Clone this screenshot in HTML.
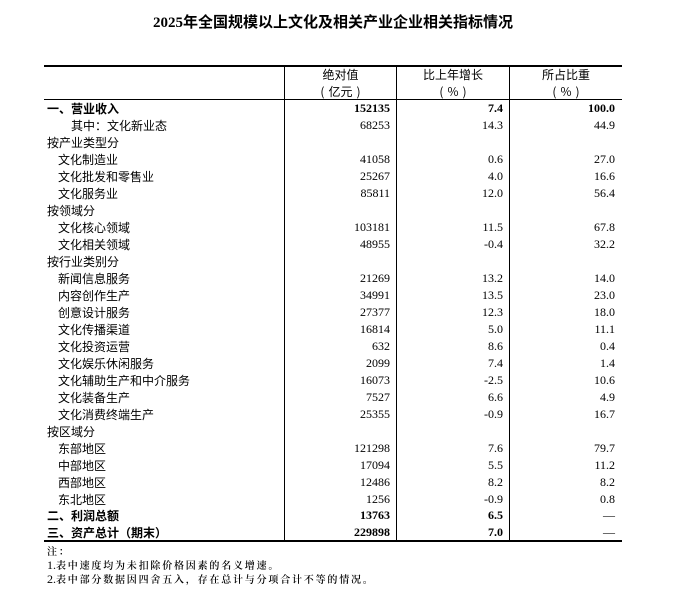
<!DOCTYPE html>
<html><head><meta charset="utf-8">
<style>
html,body{margin:0;padding:0;background:#fff;}
body{width:678px;height:610px;position:relative;overflow:hidden;font-family:"Liberation Serif","Noto Sans CJK SC",serif;color:#000;}
.t{position:absolute;white-space:nowrap;}
.title{left:44px;width:578px;top:13px;line-height:20px;text-align:center;font-size:15px;font-weight:bold;font-family:"Liberation Serif","Noto Sans CJK SC",sans-serif;}
.hl{position:absolute;background:#000;}
.lab{position:absolute;font-family:"Noto Sans CJK SC",sans-serif;font-size:12px;line-height:17px;height:17px;white-space:nowrap;}
.num{position:absolute;font-family:"Liberation Serif",serif;font-size:12px;line-height:17px;height:17px;text-align:right;white-space:nowrap;}
.b{font-weight:bold;}
.hd{position:absolute;font-family:"Noto Sans CJK SC",sans-serif;font-size:12px;line-height:17px;text-align:center;white-space:nowrap;}
.hd .s{display:inline-block;width:4px;}
.note{position:absolute;left:47px;font-family:"Noto Serif CJK SC",serif;font-weight:600;font-size:10px;letter-spacing:1.8px;line-height:14px;white-space:nowrap;color:#000;}
.note .d{font-family:"Liberation Serif",serif;font-weight:normal;font-size:12px;letter-spacing:0;}
</style></head><body>
<div class="t title">2025年全国规模以上文化及相关产业企业相关指标情况</div>

<div class="hl" style="left:44px;top:65px;width:578px;height:2px;"></div>
<div class="hl" style="left:44px;top:99px;width:578px;height:1px;"></div>
<div class="hl" style="left:44px;top:540px;width:578px;height:2px;"></div>
<div class="hl" style="left:284px;top:65px;width:1px;height:477px;"></div>
<div class="hl" style="left:396px;top:65px;width:1px;height:477px;"></div>
<div class="hl" style="left:509px;top:65px;width:1px;height:477px;"></div>

<div class="hd" style="left:285px;width:111px;top:66px;">绝对值</div>
<div class="hd" style="left:285px;width:111px;top:83px;">(<span class="s"></span>亿元<span class="s"></span>)</div>
<div class="hd" style="left:397px;width:112px;top:66px;">比上年增长</div>
<div class="hd" style="left:397px;width:112px;top:83px;">(<span class="s"></span>%<span class="s"></span>)</div>
<div class="hd" style="left:510px;width:112px;top:66px;">所占比重</div>
<div class="hd" style="left:510px;width:112px;top:83px;">(<span class="s"></span>%<span class="s"></span>)</div>

<div class="lab b" style="left:47px;top:100px;">一、营业收入</div>
<div class="num b" style="left:285px;width:105px;top:100px;">152135</div>
<div class="num b" style="left:397px;width:106px;top:100px;">7.4</div>
<div class="num b" style="left:510px;width:105px;top:100px;">100.0</div>

<div class="lab" style="left:71px;top:117px;">其中：文化新业态</div>
<div class="num" style="left:285px;width:105px;top:117px;">68253</div>
<div class="num" style="left:397px;width:106px;top:117px;">14.3</div>
<div class="num" style="left:510px;width:105px;top:117px;">44.9</div>

<div class="lab" style="left:47px;top:134px;">按产业类型分</div>

<div class="lab" style="left:58px;top:151px;">文化制造业</div>
<div class="num" style="left:285px;width:105px;top:151px;">41058</div>
<div class="num" style="left:397px;width:106px;top:151px;">0.6</div>
<div class="num" style="left:510px;width:105px;top:151px;">27.0</div>

<div class="lab" style="left:58px;top:168px;">文化批发和零售业</div>
<div class="num" style="left:285px;width:105px;top:168px;">25267</div>
<div class="num" style="left:397px;width:106px;top:168px;">4.0</div>
<div class="num" style="left:510px;width:105px;top:168px;">16.6</div>

<div class="lab" style="left:58px;top:185px;">文化服务业</div>
<div class="num" style="left:285px;width:105px;top:185px;">85811</div>
<div class="num" style="left:397px;width:106px;top:185px;">12.0</div>
<div class="num" style="left:510px;width:105px;top:185px;">56.4</div>

<div class="lab" style="left:47px;top:202px;">按领域分</div>

<div class="lab" style="left:58px;top:219px;">文化核心领域</div>
<div class="num" style="left:285px;width:105px;top:219px;">103181</div>
<div class="num" style="left:397px;width:106px;top:219px;">11.5</div>
<div class="num" style="left:510px;width:105px;top:219px;">67.8</div>

<div class="lab" style="left:58px;top:236px;">文化相关领域</div>
<div class="num" style="left:285px;width:105px;top:236px;">48955</div>
<div class="num" style="left:397px;width:106px;top:236px;">-0.4</div>
<div class="num" style="left:510px;width:105px;top:236px;">32.2</div>

<div class="lab" style="left:47px;top:253px;">按行业类别分</div>

<div class="lab" style="left:58px;top:270px;">新闻信息服务</div>
<div class="num" style="left:285px;width:105px;top:270px;">21269</div>
<div class="num" style="left:397px;width:106px;top:270px;">13.2</div>
<div class="num" style="left:510px;width:105px;top:270px;">14.0</div>

<div class="lab" style="left:58px;top:287px;">内容创作生产</div>
<div class="num" style="left:285px;width:105px;top:287px;">34991</div>
<div class="num" style="left:397px;width:106px;top:287px;">13.5</div>
<div class="num" style="left:510px;width:105px;top:287px;">23.0</div>

<div class="lab" style="left:58px;top:304px;">创意设计服务</div>
<div class="num" style="left:285px;width:105px;top:304px;">27377</div>
<div class="num" style="left:397px;width:106px;top:304px;">12.3</div>
<div class="num" style="left:510px;width:105px;top:304px;">18.0</div>

<div class="lab" style="left:58px;top:321px;">文化传播渠道</div>
<div class="num" style="left:285px;width:105px;top:321px;">16814</div>
<div class="num" style="left:397px;width:106px;top:321px;">5.0</div>
<div class="num" style="left:510px;width:105px;top:321px;">11.1</div>

<div class="lab" style="left:58px;top:338px;">文化投资运营</div>
<div class="num" style="left:285px;width:105px;top:338px;">632</div>
<div class="num" style="left:397px;width:106px;top:338px;">8.6</div>
<div class="num" style="left:510px;width:105px;top:338px;">0.4</div>

<div class="lab" style="left:58px;top:355px;">文化娱乐休闲服务</div>
<div class="num" style="left:285px;width:105px;top:355px;">2099</div>
<div class="num" style="left:397px;width:106px;top:355px;">7.4</div>
<div class="num" style="left:510px;width:105px;top:355px;">1.4</div>

<div class="lab" style="left:58px;top:372px;">文化辅助生产和中介服务</div>
<div class="num" style="left:285px;width:105px;top:372px;">16073</div>
<div class="num" style="left:397px;width:106px;top:372px;">-2.5</div>
<div class="num" style="left:510px;width:105px;top:372px;">10.6</div>

<div class="lab" style="left:58px;top:389px;">文化装备生产</div>
<div class="num" style="left:285px;width:105px;top:389px;">7527</div>
<div class="num" style="left:397px;width:106px;top:389px;">6.6</div>
<div class="num" style="left:510px;width:105px;top:389px;">4.9</div>

<div class="lab" style="left:58px;top:406px;">文化消费终端生产</div>
<div class="num" style="left:285px;width:105px;top:406px;">25355</div>
<div class="num" style="left:397px;width:106px;top:406px;">-0.9</div>
<div class="num" style="left:510px;width:105px;top:406px;">16.7</div>

<div class="lab" style="left:47px;top:423px;">按区域分</div>

<div class="lab" style="left:58px;top:440px;">东部地区</div>
<div class="num" style="left:285px;width:105px;top:440px;">121298</div>
<div class="num" style="left:397px;width:106px;top:440px;">7.6</div>
<div class="num" style="left:510px;width:105px;top:440px;">79.7</div>

<div class="lab" style="left:58px;top:457px;">中部地区</div>
<div class="num" style="left:285px;width:105px;top:457px;">17094</div>
<div class="num" style="left:397px;width:106px;top:457px;">5.5</div>
<div class="num" style="left:510px;width:105px;top:457px;">11.2</div>

<div class="lab" style="left:58px;top:474px;">西部地区</div>
<div class="num" style="left:285px;width:105px;top:474px;">12486</div>
<div class="num" style="left:397px;width:106px;top:474px;">8.2</div>
<div class="num" style="left:510px;width:105px;top:474px;">8.2</div>

<div class="lab" style="left:58px;top:491px;">东北地区</div>
<div class="num" style="left:285px;width:105px;top:491px;">1256</div>
<div class="num" style="left:397px;width:106px;top:491px;">-0.9</div>
<div class="num" style="left:510px;width:105px;top:491px;">0.8</div>

<div class="lab b" style="left:47px;top:507px;">二、利润总额</div>
<div class="num b" style="left:285px;width:105px;top:507px;">13763</div>
<div class="num b" style="left:397px;width:106px;top:507px;">6.5</div>
<div class="num" style="left:510px;width:105px;top:507px;">—</div>

<div class="lab b" style="left:47px;top:524px;">三、资产总计（期末）</div>
<div class="num b" style="left:285px;width:105px;top:524px;">229898</div>
<div class="num b" style="left:397px;width:106px;top:524px;">7.0</div>
<div class="num" style="left:510px;width:105px;top:524px;">—</div>

<div class="note" style="top:544px;">注：</div>
<div class="note" style="top:558px;"><span class="d">1.</span>表中速度均为未扣除价格因素的名义增速。</div>
<div class="note" style="top:572px;"><span class="d">2.</span>表中部分数据因四舍五入，存在总计与分项合计不等的情况。</div>
</body></html>
